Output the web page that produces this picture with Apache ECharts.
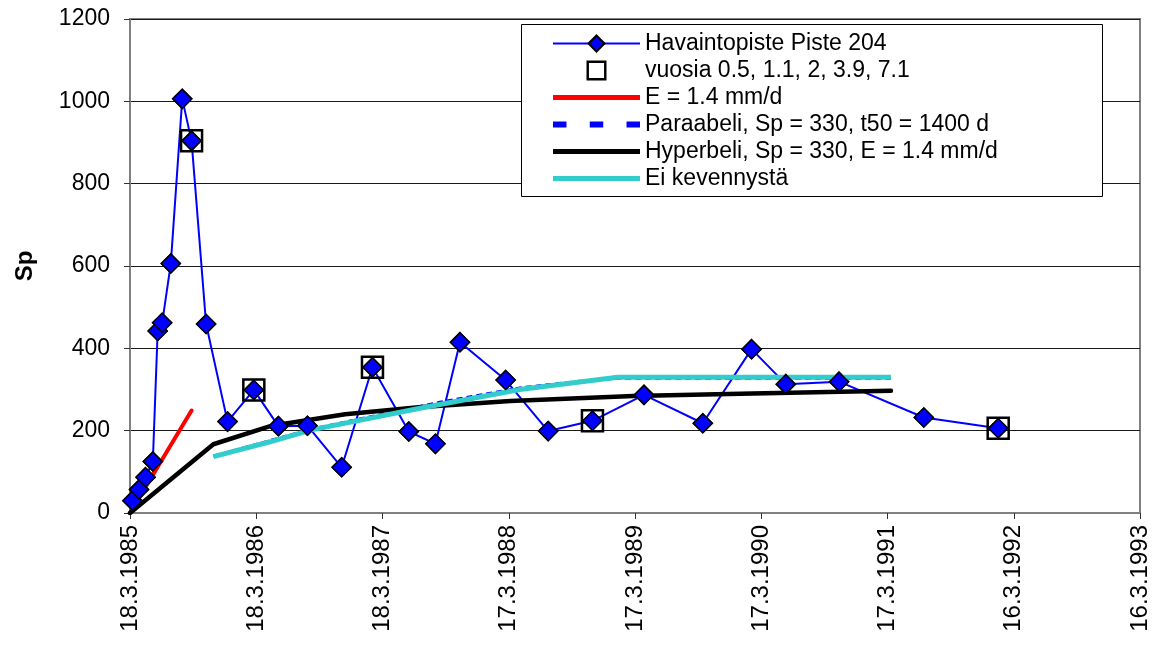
<!DOCTYPE html>
<html><head><meta charset="utf-8">
<script src="https://cdn.jsdelivr.net/npm/echarts@6/dist/echarts.min.js"></script>
<style>html,body{margin:0;padding:0;background:#fff}#c{width:1163px;height:652px}</style>
</head><body><div id="c"></div>
<script>
// x tick labels (one per 365 days from 18.3.1985)
const xTickLabels = ['18.3.1985','18.3.1986','18.3.1987','17.3.1988','17.3.1989','17.3.1990','17.3.1991','16.3.1992','16.3.1993'];
// days since 18.3.1985
const obsDays = [7, 26, 45, 66, 80, 93, 118, 151, 178, 220, 282, 358, 429, 513, 612, 701, 806, 883, 954, 1086, 1209, 1337, 1486, 1656, 1797, 1896, 2050, 2295, 2510];
const obsSp   = [30, 57, 87, 125, 442, 462, 606, 1006, 904, 459, 222, 299, 211, 212, 111, 354, 198, 168, 415, 323, 199, 224, 287, 218, 398, 313, 319, 232, 206];
const yearDays = [178, 358, 701, 1337, 2510];
const yearSp   = [904, 299, 354, 224, 206];
const eDays = [0, 178];
const eSp   = [0, 249];
const paraDays = [241, 525, 896, 1127, 1300, 1410, 2200];
const paraSp   = [139, 205, 270, 305, 321, 326, 326];
const hypDays = [0, 241, 410, 622, 834, 1099, 1455, 1800, 2200];
const hypSp   = [0, 167, 212, 240, 257, 272, 284, 290, 297];
const eiDays = [241, 405, 525, 853, 1127, 1300, 1410, 2200];
const eiSp   = [137, 173, 202, 257, 300, 318, 330, 330];
const seriesNames = ['Havaintopiste Piste 204','vuosia 0.5, 1.1, 2, 3.9, 7.1','E = 1.4 mm/d','Paraabeli, Sp = 330, t50 = 1400 d','Hyperbeli, Sp = 330, E = 1.4 mm/d','Ei kevennystä'];

const pairs = (xs, ys) => xs.map((x, i) => [x, ys[i]]);
const FONT = "'Liberation Sans', Arial, sans-serif";

const chart = echarts.init(document.getElementById('c'), null, {renderer: 'canvas'});
chart.setOption({
  animation: false,
  backgroundColor: '#fff',
  textStyle: {fontFamily: FONT},
  grid: {left: 130, right: 23, top: 19, bottom: 139, show: true, borderColor: '#808080', borderWidth: 2, backgroundColor: 'transparent'},
  graphic: [{
    type: 'rect', z: 3,
    shape: {x: 521.5, y: 24.5, width: 581, height: 172},
    style: {fill: '#fff', stroke: '#000', lineWidth: 1}
  }],
  legend: {
    orient: 'vertical', left: 552, top: 30, padding: 0,
    itemWidth: 87, itemHeight: 20, itemGap: 0,
    selectedMode: false, z: 10,
    textStyle: {fontFamily: FONT, fontSize: 23, lineHeight: 27, color: '#000'},
    data: [
      {name: seriesNames[0]},
      {name: seriesNames[1], icon: 'path://M0,0h18v18h-18zM2.2,2.2v13.6h13.6v-13.6z', itemStyle: {color: '#000', borderWidth: 0}},
      {name: seriesNames[2], icon: 'path://M0,0h87v5h-87z'},
      {name: seriesNames[3], icon: 'path://M0,0h11v5h-11zM30,0h11v5h-11zM60,0h11v5h-11z'},
      {name: seriesNames[4], icon: 'path://M0,0h87v5h-87z'},
      {name: seriesNames[5], icon: 'path://M0,0h87v5h-87z'}
    ]
  },
  xAxis: {
    type: 'value', min: 0, max: 2920, interval: 365,
    axisLine: {show: true, onZero: false, lineStyle: {color: '#808080', width: 2}},
    axisTick: {show: true, length: 6, lineStyle: {color: '#333', width: 1}},
    splitLine: {show: false},
    axisLabel: {rotate: 90, margin: 12, fontSize: 24, color: '#000', fontFamily: FONT,
      formatter: v => xTickLabels[Math.round(v / 365)] || ''}
  },
  yAxis: {
    type: 'value', min: 0, max: 1200, interval: 200,
    name: 'Sp', nameLocation: 'middle', nameGap: 93,
    nameTextStyle: {fontSize: 24, fontWeight: 'bold', color: '#000', fontFamily: FONT},
    axisLine: {show: true, lineStyle: {color: '#808080', width: 2}},
    axisTick: {show: true, length: 6, lineStyle: {color: '#333', width: 1}},
    splitLine: {show: true, lineStyle: {color: '#1a1a1a', width: 1}},
    axisLabel: {margin: 20, fontSize: 23, color: '#000', fontFamily: FONT, formatter: v => String(v)}
  },
  series: [
    {name: seriesNames[0], type: 'line', z: 2, data: pairs(obsDays, obsSp),
     symbol: 'diamond', symbolSize: 19, showSymbol: true,
     lineStyle: {color: '#0000FF', width: 2},
     itemStyle: {color: '#0000FF', borderColor: '#000', borderWidth: 1.5}},
    {name: seriesNames[1], type: 'scatter', z: 5, data: pairs(yearDays, yearSp),
     symbol: 'rect', symbolSize: 21,
     itemStyle: {color: 'rgba(255,255,255,0)', borderColor: '#000', borderWidth: 2.5, opacity: 1}},
    {name: seriesNames[2], type: 'line', z: 3, data: pairs(eDays, eSp),
     symbol: 'none', showSymbol: false,
     lineStyle: {color: '#FF0000', width: 4, cap: 'round'},
     itemStyle: {color: '#FF0000', borderWidth: 0}},
    {name: seriesNames[3], type: 'line', z: 2, data: pairs(paraDays, paraSp),
     symbol: 'none', showSymbol: false,
     lineStyle: {color: '#0000FF', width: 2, type: [6, 4]},
     itemStyle: {color: '#0000FF', borderWidth: 0}},
    {name: seriesNames[4], type: 'line', z: 3, data: pairs(hypDays, hypSp),
     symbol: 'none', showSymbol: false,
     lineStyle: {color: '#000000', width: 4.5, cap: 'round', join: 'round'},
     itemStyle: {color: '#000000', borderWidth: 0}},
    {name: seriesNames[5], type: 'line', z: 4, data: pairs(eiDays, eiSp),
     symbol: 'none', showSymbol: false,
     lineStyle: {color: '#33CCCC', width: 5, join: 'round'},
     itemStyle: {color: '#33CCCC', borderWidth: 0}},
    {name: 'obsMarkers', type: 'scatter', z: 6, data: pairs(obsDays, obsSp),
     symbol: 'diamond', symbolSize: 19,
     itemStyle: {color: '#0000FF', borderColor: '#000', borderWidth: 1.5, opacity: 1}}
  ]
});
</script>
</body></html>
